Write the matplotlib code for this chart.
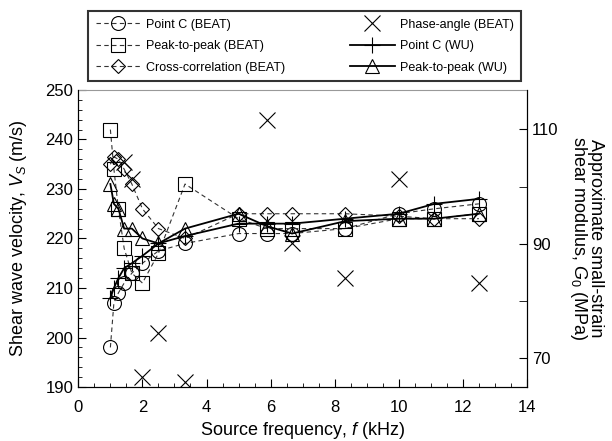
import numpy as np
import matplotlib
matplotlib.use('Agg')
import matplotlib.pyplot as plt
from matplotlib.ticker import MultipleLocator

plt.rcParams['font.family'] = ['Liberation Sans', 'DejaVu Sans']
plt.rcParams['mathtext.fontset'] = 'custom'
plt.rcParams['mathtext.rm'] = 'Liberation Sans'
plt.rcParams['mathtext.it'] = 'Liberation Sans:italic'

# source frequencies (kHz)
freq = [1.0, 1.11, 1.25, 1.43, 1.67, 2.0, 2.5, 3.33, 5.0, 5.88, 6.67, 8.33, 10.0, 11.11, 12.5]

# BEAT results (m/s)
pointc_beat = [198, 207, 209, 211, 213, 215, 217.5, 219, 221, 221, 221, 222, 225, 226, 227]
peak_beat = [242, 234, 226, 218, 213, 211, 217, 231, 224, 222, 222, 222, 224, 224, 225]
xcorr_beat = [235, 236.5, 236, 234, 231, 226, 222, 220, 225, 225, 225, 225, 224.5, 224, 224]

freq_phase = [1.43, 1.67, 2.0, 2.5, 3.33, 5.88, 6.67, 8.33, 10.0, 12.5]
phase_beat = [235.5, 232, 192, 201, 191, 244, 219, 212, 232, 211]

# WU results (m/s)
pointc_wu = [208, 210, 212, 214, 215, 216.5, 219, 220.5, 223, 223, 223, 224, 225, 227, 228]
peak_wu = [231, 227, 226, 222, 222, 220, 219, 222, 225, 222.5, 221, 223.5, 224, 224, 225]

fig = plt.figure(figsize=(6.12, 4.41), dpi=100)
ax = fig.add_axes([0.128, 0.1224, 0.733, 0.6736])

dash = (0, (4, 3))
mk = dict(markerfacecolor='none', markeredgecolor='black', markeredgewidth=0.8, markersize=10)

h1, = ax.plot(freq, pointc_beat, color='#333333', lw=0.8, ls=dash, marker='o', **mk, label='Point C (BEAT)')
h2, = ax.plot(freq, peak_beat, color='#333333', lw=0.8, ls=dash, marker='s', **mk, label='Peak-to-peak (BEAT)')
h3, = ax.plot(freq, xcorr_beat, color='#333333', lw=0.8, ls=dash, marker='D', markerfacecolor='none',
              markeredgecolor='black', markeredgewidth=0.8, markersize=7.5, label='Cross-correlation (BEAT)')
h4, = ax.plot(freq_phase, phase_beat, ls='none', marker='x', color='black', markersize=11,
              markeredgewidth=0.8, label='Phase-angle (BEAT)')
h5, = ax.plot(freq, pointc_wu, color='black', lw=1.3, marker='+', markersize=12,
              markeredgewidth=0.8, label='Point C (WU)')
h6, = ax.plot(freq, peak_wu, color='black', lw=1.3, marker='^', **mk, label='Peak-to-peak (WU)')

ax.set_xlim(0, 14)
ax.set_ylim(190, 250)
ax.xaxis.set_major_locator(MultipleLocator(2))
ax.xaxis.set_minor_locator(MultipleLocator(0.5))
ax.yaxis.set_major_locator(MultipleLocator(10))
ax.yaxis.set_minor_locator(MultipleLocator(2))
ax.tick_params(which='both', direction='in', top=False, right=False, labelsize=12)
ax.tick_params(which='major', length=6)
ax.tick_params(which='minor', length=3)
ax.tick_params(axis='x', pad=9)
ax.spines['top'].set_color('#999999')
ax.set_xlabel('Source frequency, $f$ (kHz)', fontsize=13, labelpad=4)
ax.set_ylabel('Shear wave velocity, $V_S$ (m/s)', fontsize=13, labelpad=12)

ax2 = ax.twinx()
ax2.set_ylim(65.0, 116.9)
ax2.yaxis.set_minor_locator(MultipleLocator(10))
ax2.set_yticks([70, 90, 110])
ax2.tick_params(which='both', direction='in', labelsize=12)
ax2.tick_params(which='major', length=6)
ax2.tick_params(which='minor', length=6)
ax2.spines['top'].set_visible(False)
ax2.set_ylabel('Approximate small-strain\nshear modulus, $G_{\\mathit{0}}$ (MPa)', fontsize=13,
               rotation=-90, labelpad=33, linespacing=0.9)

leg = fig.legend(handles=[h1, h2, h3, h4, h5, h6], ncol=2, loc='lower left', mode='expand',
                 bbox_to_anchor=(88 / 612, 1 - 81 / 441, 433 / 612, 74 / 441), fontsize=9,
                 frameon=True, fancybox=False, handlelength=3.6, handletextpad=0.4,
                 labelspacing=0.75, borderpad=0.6, borderaxespad=0)
leg.get_frame().set_edgecolor('black')
leg.get_frame().set_linewidth(1.5)

fig.savefig('out.png', dpi=100)
